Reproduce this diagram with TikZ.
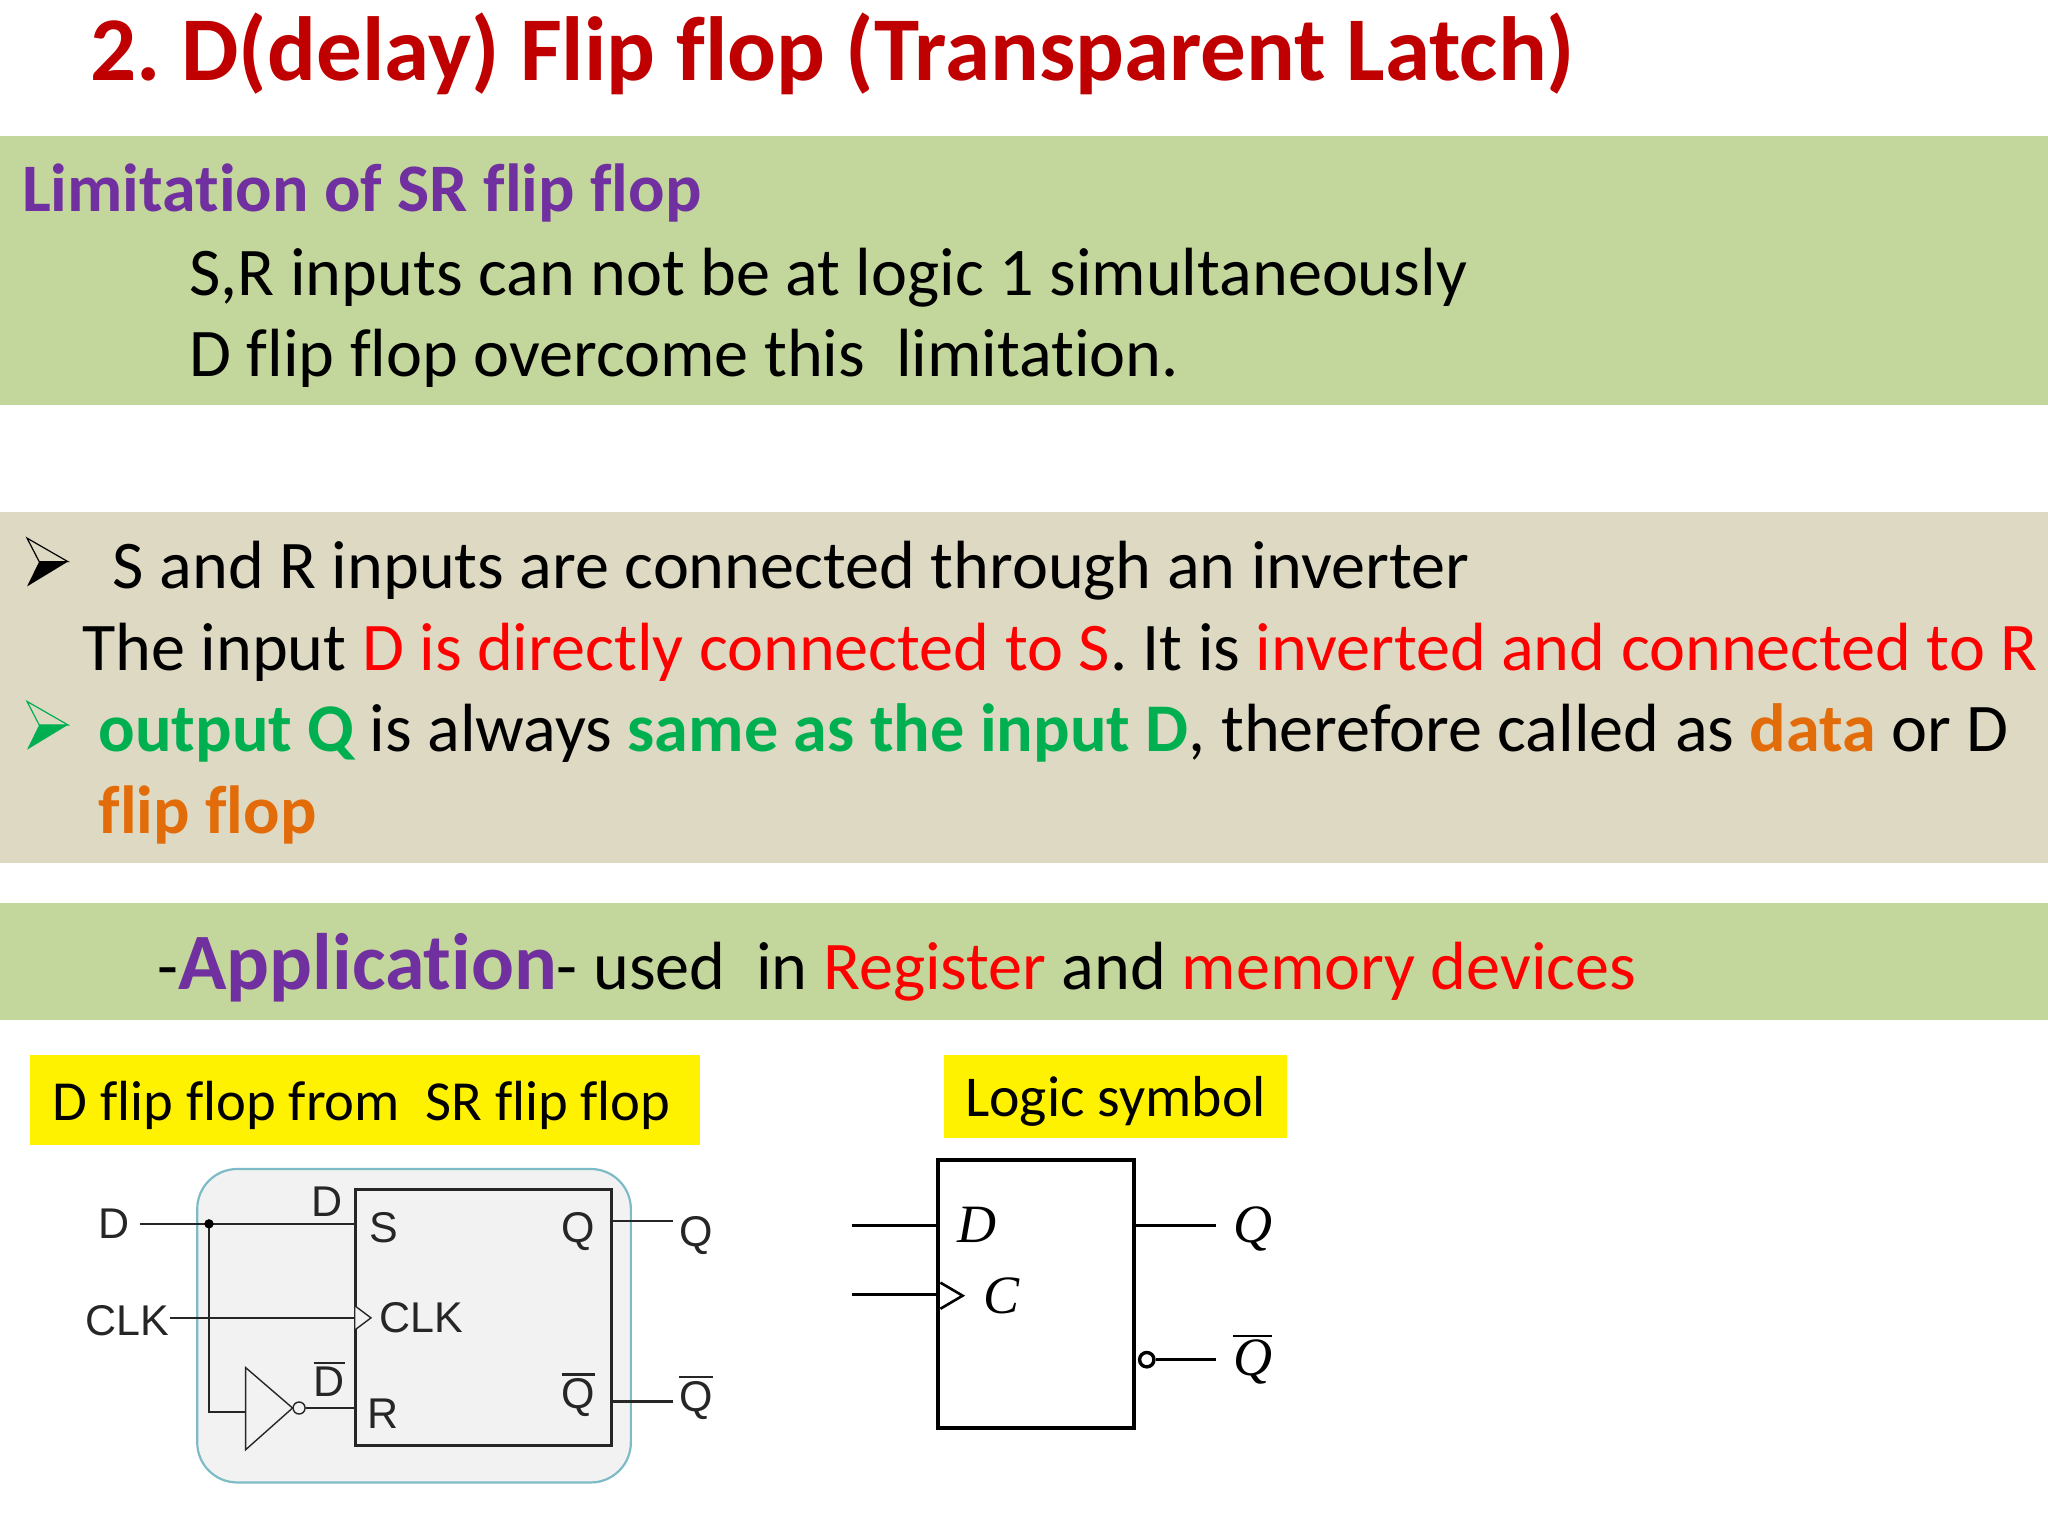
\documentclass[tikz,border=0pt]{standalone}
\usepackage{fontspec}
\setmainfont[Ligatures=NoCommon]{Carlito}
\newfontfamily\arialf{Liberation Sans}
\newfontfamily\timesf{Liberation Serif}
\usetikzlibrary{calc}
\definecolor{titlered}{HTML}{C00000}
\definecolor{purp}{HTML}{7030A0}
\definecolor{rd}{HTML}{FF0000}
\definecolor{grn}{HTML}{00B050}
\definecolor{org}{HTML}{E36C0A}
\definecolor{bandg}{HTML}{C3D69B}
\definecolor{bandb}{HTML}{DDD9C3}
\definecolor{panel}{HTML}{F2F2F2}
\definecolor{panelb}{HTML}{7DBBC6}
\definecolor{ink}{HTML}{262626}
\newcommand\fs[1]{\fontsize{#1}{#1}\selectfont}
\newcommand\ovl[1]{\vbox{\hrule height 2.6pt \kern 3pt \hbox{#1}}}
\tikzset{
 x=1.30612pt,y=-1.30612pt,
 txt/.style={anchor=base west,inner sep=0pt,outer sep=0pt,font=\fs{68.2}},
 band/.style={fill=#1,draw=none},
 ckt/.style={anchor=center,inner sep=0pt,text=ink,font=\arialf\fs{43}},
 sym/.style={anchor=center,inner sep=0pt,font=\timesf\itshape\fs{54}},
 wire/.style={draw=ink,line width=2.4pt},
 bwire/.style={draw=black,line width=2.8pt},
 tag/.style={fill=yellow,draw=none,inner sep=0pt},
}
\begin{document}
\begin{tikzpicture}
\useasboundingbox (0,0) rectangle (1568,1176);
\fill[white] (0,0) rectangle (1568,1176);
% bands
\fill[band=bandg] (0,104) rectangle (1568,310);
\fill[band=bandb] (0,392) rectangle (1568,661);
\fill[band=bandg] (0,691) rectangle (1568,781);
\fill[tag] (23,808) rectangle (536,877);
\fill[tag] (723,808) rectangle (985,871);
% text
\node[txt,font=\bfseries\fs{91.1},text=titlered] (title) at (69,61.5) {2.\hspace{-6.5pt} D(delay) Flip flop (Transparent Latch)};
\node[txt,font=\bfseries\fs{68},text=purp] (lim) at (17,162) {Limitation of SR flip flop};
\node[txt] (l1) at (145,226) {S,R inputs can not be at logic 1 simultaneously};
\node[txt] (l2) at (145,288) {D flip flop overcome this\ \ limitation.};
\node[txt] (b1) at (86.5,450.5) {S and R inputs are connected through an inverter};
\node[txt] (b2) at (63,513) {The input \textcolor{rd}{D is directly connected to S}. It is \textcolor{rd}{inverted and connected to R}};
\node[txt] (b3) at (75.5,575.5) {\textcolor{grn}{\bfseries output Q} is always \textcolor{grn}{\bfseries same as the input D}, therefore called as \textcolor{org}{\bfseries data} or D};
\node[txt,font=\bfseries\fs{68},text=org] (b4) at (75.5,638) {flip flop};
\node[txt] (app) at (120.5,757.5) {-{\bfseries\fs{80}\textcolor{purp}{Application}}- used\ \ in \textcolor{rd}{Register} and \textcolor{rd}{memory devices}};
\node[txt,font=\fs{56.6}] (t1) at (40.5,858) {D flip flop from\ \ SR flip flop};
\node[txt,font=\fs{57.8}] (t2) at (739,855) {Logic symbol};
% bullets
\foreach \yy/\cc in {0/black,125/grn}{
 \begin{scope}[yshift=-\yy*1.30612pt]
 \draw[\cc,line width=1.2pt,line join=miter] (20.7,412)--(52,430)--(30,430)--cycle;
 \fill[\cc] (20.7,449)--(52,430)--(30,430)--cycle;
 \end{scope}}
% D from SR circuit
\draw[panelb,fill=panel,line width=2.2pt,rounded corners=40pt] (151,895) rectangle (483,1135);
\node[draw=ink,line width=2.8pt,fill=panel,minimum width=196*1.30612pt,minimum height=196*1.30612pt,inner sep=0pt] (ff) at (370,1009) {};
\node[ckt] (dIn) at (87,937) {D};
\node[ckt] (clkIn) at (97.5,1011) {CLK};
\node[ckt] (dLab) at (250,920) {D};
\node[ckt] (dbLab) at (252,1056) {\ovl{D}};
\node[ckt] (sLab) at (294,940) {S};
\node[ckt] (clkLab) at (322.5,1009) {CLK};
\node[ckt] (rLab) at (293,1082) {R};
\node[ckt] (qLab) at (443,943) {Q};
\node[ckt] (qbLab) at (443,1068) {\ovl{Q}};
\node[ckt] (qOut) at (533,946) {Q};
\node[ckt] (qbOut) at (533,1070) {\ovl{Q}};
\coordinate (dEnd) at (107,937);
\coordinate (jn) at (160,937);
\coordinate (sPin) at (272,937);
\coordinate (clkEnd) at (130,1009);
\coordinate (clkPin) at (272,1009);
\coordinate (rPin) at (272,1078);
\coordinate (invIn) at (188,1081);
\coordinate (corner) at (160,1081);
\coordinate (qPin) at (468,935);
\coordinate (qEnd) at (515,935);
\coordinate (qbPin) at (468,1073);
\coordinate (qbEnd) at (515,1073);
\draw[wire] (dEnd) -- (sPin);
\draw[wire] (jn) -- (corner) -- (invIn);
\draw[wire] (clkEnd) -- (clkPin);
\draw[wire] (qPin) -- (qEnd);
\draw[wire] (qbPin) -- (qbEnd);
\fill[black] (jn) circle (3.6);
\draw[ink,line width=1.4pt,fill=panel] (272,1000) -- (284,1009) -- (272,1018);
\draw[ink,line width=1.4pt] (188,1047) -- (224,1078) -- (188,1110) -- cycle;
\node[circle,draw=ink,line width=1.4pt,fill=panel,minimum size=12pt,inner sep=0pt] (bub) at (229,1078) {};
\draw[wire] (bub) -- (rPin);
% logic symbol
\node[draw=black,line width=3.8pt,fill=white,minimum width=150*1.30612pt,minimum height=205*1.30612pt,inner sep=0pt] (sb) at (793,990.5) {};
\coordinate (sD) at (652,938);
\coordinate (sDp) at (718,938);
\coordinate (sC) at (652,991);
\coordinate (sCp) at (718,991);
\coordinate (sQp) at (868,938);
\coordinate (sQe) at (931,938);
\coordinate (sQb) at (931,1041);
\draw[bwire] (sD) -- (sDp);
\draw[bwire] (sC) -- (sCp);
\draw[bwire] (sQp) -- (sQe);
\draw[black,line width=2.6pt] (720,982) -- (737,992) -- (720,1002);
\node[circle,draw=black,line width=3.4pt,fill=white,minimum size=11*1.30612pt,inner sep=0pt] (sbub) at (878,1041) {};
\draw[bwire] (sbub) -- (sQb);
\node[sym] (symD) at (748,938) {D};
\node[sym] (symC) at (767,992) {C};
\node[sym] (symQ) at (959,941) {Q};
\node[sym] (symQb) at (959,1041) {\ovl{Q}};
\end{tikzpicture}
\end{document}
